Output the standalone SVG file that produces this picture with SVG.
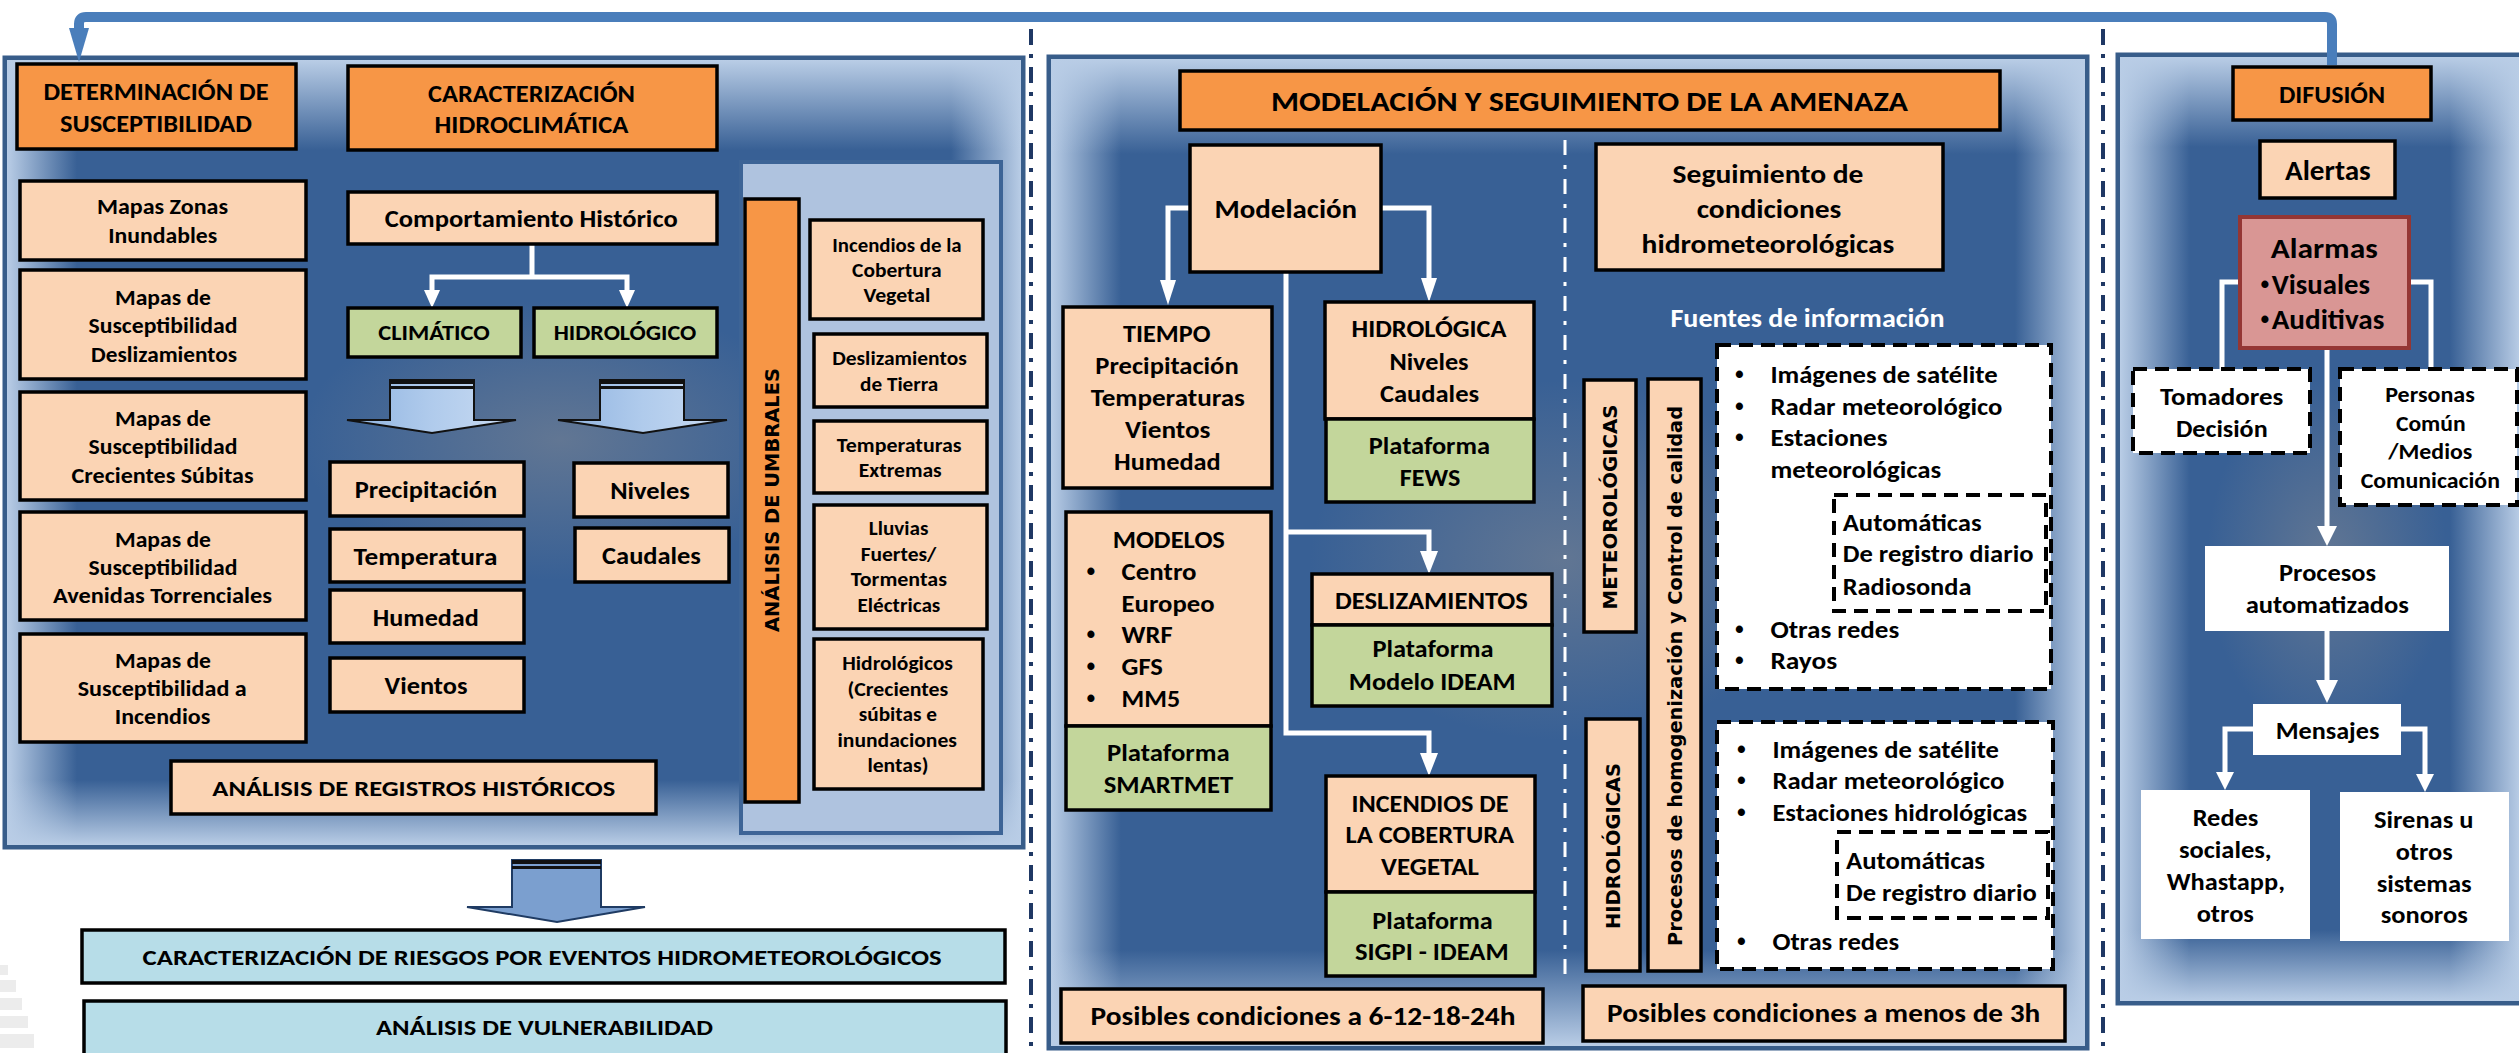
<svg xmlns="http://www.w3.org/2000/svg" width="2519" height="1053" viewBox="0 0 2519 1053">
<style>
.b{stroke:#000;stroke-width:3.5}
.pe{fill:#fbd4b4}
.or{fill:#f79646}
.gr{fill:#c3d69b}
.lb{fill:#b7dde8}
.wh{fill:#fff}
.t{font-family:Carlito,Lato,'Liberation Sans',sans-serif;font-weight:700;fill:#000;text-anchor:middle;dominant-baseline:central}
.l{text-anchor:start}
.bu{font-family:'Liberation Sans',sans-serif;font-weight:700;fill:#000;text-anchor:middle;dominant-baseline:central;font-size:25px}
.r{font-family:'DejaVu Sans',sans-serif;font-weight:700;fill:#000;text-anchor:middle;dominant-baseline:central}
.w{stroke:#fff;stroke-width:5;fill:none}
.ah{fill:#fff}
.d{fill:#fff;stroke:#000;stroke-width:4;stroke-dasharray:14 8}
.pbase{fill:#386095;stroke:#385d8a;stroke-width:5}
.sep{stroke:#1f3864;stroke-width:4;stroke-dasharray:16 9 4 9;fill:none}
</style>
<defs>
<linearGradient id="fl" x1="0" x2="1" y1="0" y2="0"><stop offset="0" stop-color="#b9cde6"/><stop offset="1" stop-color="#b9cde6" stop-opacity="0"/></linearGradient>
<linearGradient id="fr" x1="1" x2="0" y1="0" y2="0"><stop offset="0" stop-color="#b9cde6"/><stop offset="1" stop-color="#b9cde6" stop-opacity="0"/></linearGradient>
<linearGradient id="ft" x1="0" x2="0" y1="0" y2="1"><stop offset="0" stop-color="#b9cde6"/><stop offset="1" stop-color="#b9cde6" stop-opacity="0"/></linearGradient>
<linearGradient id="fb" x1="0" x2="0" y1="1" y2="0"><stop offset="0" stop-color="#b9cde6"/><stop offset="1" stop-color="#b9cde6" stop-opacity="0"/></linearGradient>
<radialGradient id="glow" cx="0.5" cy="0.5" r="0.5"><stop offset="0" stop-color="#7d8592" stop-opacity="0.6"/><stop offset="1" stop-color="#7d8592" stop-opacity="0"/></radialGradient>
<linearGradient id="barrow" x1="0" x2="1" y1="0" y2="0"><stop offset="0" stop-color="#8fb3e0"/><stop offset="0.5" stop-color="#b0cbec"/><stop offset="1" stop-color="#c9dbf2"/></linearGradient>
</defs>

<g id="watermark" fill="#ececec">
<rect x="0" y="965" width="8" height="10"/>
<rect x="0" y="980" width="16" height="12"/>
<rect x="0" y="998" width="22" height="12"/>
<rect x="0" y="1016" width="28" height="12"/>
<rect x="0" y="1034" width="34" height="14"/>
</g>

<g id="separators">
<line class="sep" x1="1031" y1="29" x2="1031" y2="1053"/>
<line class="sep" x1="2103" y1="29" x2="2103" y2="1053"/>
</g>

<g id="panel-left">
<rect class="pbase" x="5" y="58" width="1018" height="789"/>
<rect x="7" y="60" width="70" height="785" fill="url(#fl)"/>
<rect x="951" y="60" width="70" height="785" fill="url(#fr)"/>
<rect x="7" y="60" width="1014" height="90" fill="url(#ft)"/>
<rect x="7" y="780" width="1014" height="65" fill="url(#fb)"/>
<ellipse cx="560" cy="440" rx="260" ry="140" fill="url(#glow)"/>
<rect x="741" y="162" width="260" height="671" fill="#afc3df" stroke="#3d6496" stroke-width="4"/>
</g>
<g id="panel-mid">
<rect class="pbase" x="1049" y="57" width="1038" height="991"/>
<rect x="1051" y="59" width="70" height="987" fill="url(#fl)"/>
<rect x="2015" y="59" width="70" height="987" fill="url(#fr)"/>
<rect x="1051" y="59" width="1034" height="95" fill="url(#ft)"/>
<rect x="1051" y="950" width="1034" height="96" fill="url(#fb)"/>
<ellipse cx="1560" cy="560" rx="250" ry="180" fill="url(#glow)"/>
</g>
<g id="panel-right">
<rect class="pbase" x="2118" y="55" width="420" height="948"/>
<rect x="2120" y="57" width="70" height="944" fill="url(#fl)"/>
<rect x="2450" y="57" width="70" height="944" fill="url(#fr)"/>
<rect x="2120" y="57" width="400" height="90" fill="url(#ft)"/>
<rect x="2120" y="930" width="400" height="71" fill="url(#fb)"/>
<ellipse cx="2327" cy="560" rx="120" ry="180" fill="url(#glow)"/>
</g>

<g id="connectors">
<path d="M2332 65 V24 Q2332 17 2325 17 H86 Q79 17 79 24 V32" fill="none" stroke="#4a7ebb" stroke-width="10"/>
<polygon points="69,28 89,28 79,62" fill="#4a7ebb"/>
<path class="w" d="M532 244 V277 M432 293 V277 H627 V293"/>
<polygon class="ah" points="424,290 440,290 432,308"/>
<polygon class="ah" points="619,290 635,290 627,308"/>
<g id="blockarrow1">
<polygon points="390,380 474,380 474,420 516,420 432,433 347,420 390,420" fill="url(#barrow)" stroke="#111" stroke-width="2"/>
<rect x="390" y="380" width="84" height="4" fill="#111"/>
<rect x="390" y="386" width="84" height="3" fill="#111"/>
</g>
<g id="blockarrow2">
<polygon points="600,380 684,380 684,420 727,420 643,433 558,420 600,420" fill="url(#barrow)" stroke="#111" stroke-width="2"/>
<rect x="600" y="380" width="84" height="4" fill="#111"/>
<rect x="600" y="386" width="84" height="3" fill="#111"/>
</g>
<g id="blockarrow3">
<polygon points="512,860 601,860 601,907 645,907 557,922 467,907 512,907" fill="#7b9fcf" stroke="#1f3b63" stroke-width="2"/>
<rect x="512" y="860" width="89" height="4" fill="#111"/>
<rect x="512" y="866" width="89" height="3" fill="#111"/>
</g>
<path class="w" d="M1190 208 H1168 V285"/>
<polygon class="ah" points="1160,280 1176,280 1168,305"/>
<path class="w" d="M1381 208 H1429 V283"/>
<polygon class="ah" points="1421,278 1437,278 1429,302"/>
<path class="w" d="M1286 272 V733 H1429 V758"/>
<polygon class="ah" points="1420,753 1438,753 1429,776"/>
<path class="w" d="M1286 532 H1429 V556"/>
<polygon class="ah" points="1420,551 1438,551 1429,574"/>
<line x1="1565" y1="140" x2="1565" y2="974" stroke="#fff" stroke-width="3" stroke-dasharray="15 10 4 10"/>
<path class="w" d="M2240 282 H2222 V369 M2409 282 H2431 V369"/>
<path class="w" d="M2327 348 V530"/>
<polygon class="ah" points="2317,526 2337,526 2327,546"/>
<path class="w" d="M2327 631 V684"/>
<polygon class="ah" points="2316,680 2338,680 2327,703"/>
<path class="w" d="M2253 729 H2225 V775 M2401 729 H2425 V777"/>
<polygon class="ah" points="2216,772 2234,772 2225,790"/>
<polygon class="ah" points="2416,774 2434,774 2425,792"/>
</g>

<g id="n-determinacion"><rect class="b or" x="17" y="64" width="279" height="85"/>
<text class="t" font-size="25" x="156" y="91" textLength="225" lengthAdjust="spacingAndGlyphs">DETERMINACIÓN DE</text>
<text class="t" font-size="25" x="156" y="123" textLength="192" lengthAdjust="spacingAndGlyphs">SUSCEPTIBILIDAD</text></g>
<g id="n-caracterizacion"><rect class="b or" x="348" y="66" width="369" height="84"/>
<text class="t" font-size="25" x="531.5" y="93" textLength="207" lengthAdjust="spacingAndGlyphs">CARACTERIZACIÓN</text>
<text class="t" font-size="25" x="531.5" y="124" textLength="194" lengthAdjust="spacingAndGlyphs">HIDROCLIMÁTICA</text></g>
<g id="n-mapas1"><rect class="b pe" x="20" y="181" width="286" height="79"/>
<text class="t" font-size="23" x="162.5" y="206" textLength="131" lengthAdjust="spacingAndGlyphs">Mapas Zonas</text>
<text class="t" font-size="23" x="162.7" y="235" textLength="109" lengthAdjust="spacingAndGlyphs">Inundables</text></g>
<g id="n-mapas2"><rect class="b pe" x="20" y="270" width="286" height="109"/>
<text class="t" font-size="23" x="163" y="297" textLength="96" lengthAdjust="spacingAndGlyphs">Mapas de</text>
<text class="t" font-size="23" x="163" y="325" textLength="149" lengthAdjust="spacingAndGlyphs">Susceptibilidad</text>
<text class="t" font-size="23" x="164" y="354" textLength="146" lengthAdjust="spacingAndGlyphs">Deslizamientos</text></g>
<g id="n-mapas3"><rect class="b pe" x="20" y="392" width="286" height="108"/>
<text class="t" font-size="23" x="163" y="418" textLength="96" lengthAdjust="spacingAndGlyphs">Mapas de</text>
<text class="t" font-size="23" x="163" y="446" textLength="149" lengthAdjust="spacingAndGlyphs">Susceptibilidad</text>
<text class="t" font-size="23" x="162.5" y="475" textLength="182" lengthAdjust="spacingAndGlyphs">Crecientes Súbitas</text></g>
<g id="n-mapas4"><rect class="b pe" x="20" y="512" width="286" height="108"/>
<text class="t" font-size="23" x="163" y="539" textLength="96" lengthAdjust="spacingAndGlyphs">Mapas de</text>
<text class="t" font-size="23" x="163" y="567" textLength="149" lengthAdjust="spacingAndGlyphs">Susceptibilidad</text>
<text class="t" font-size="23" x="162.5" y="595" textLength="219" lengthAdjust="spacingAndGlyphs">Avenidas Torrenciales</text></g>
<g id="n-mapas5"><rect class="b pe" x="20" y="634" width="286" height="108"/>
<text class="t" font-size="23" x="163" y="660" textLength="96" lengthAdjust="spacingAndGlyphs">Mapas de</text>
<text class="t" font-size="23" x="162.2" y="688" textLength="169" lengthAdjust="spacingAndGlyphs">Susceptibilidad a</text>
<text class="t" font-size="23" x="162.5" y="716" textLength="95.5" lengthAdjust="spacingAndGlyphs">Incendios</text></g>
<g id="n-comportamiento"><rect class="b pe" x="348" y="192" width="369" height="52"/>
<text class="t" font-size="24" x="531.2" y="218" textLength="293" lengthAdjust="spacingAndGlyphs">Comportamiento Histórico</text></g>
<g id="n-climatico"><rect class="b gr" x="348" y="308" width="173" height="49"/>
<text class="t" font-size="23" x="434" y="332" textLength="111.4" lengthAdjust="spacingAndGlyphs">CLIMÁTICO</text></g>
<g id="n-hidrologico"><rect class="b gr" x="534" y="308" width="183" height="49"/>
<text class="t" font-size="23" x="625" y="332" textLength="142.6" lengthAdjust="spacingAndGlyphs">HIDROLÓGICO</text></g>
<g id="n-precipitacion"><rect class="b pe" x="330" y="462" width="194" height="54"/>
<text class="t" font-size="24" x="426" y="489" textLength="142.5" lengthAdjust="spacingAndGlyphs">Precipitación</text></g>
<g id="n-temperatura"><rect class="b pe" x="330" y="529" width="194" height="53"/>
<text class="t" font-size="24" x="425.4" y="556" textLength="143.9" lengthAdjust="spacingAndGlyphs">Temperatura</text></g>
<g id="n-humedad"><rect class="b pe" x="330" y="590" width="194" height="53"/>
<text class="t" font-size="24" x="425.8" y="617" textLength="106" lengthAdjust="spacingAndGlyphs">Humedad</text></g>
<g id="n-vientos"><rect class="b pe" x="330" y="658" width="194" height="54"/>
<text class="t" font-size="24" x="426" y="685" textLength="82.9" lengthAdjust="spacingAndGlyphs">Vientos</text></g>
<g id="n-niveles"><rect class="b pe" x="574" y="463" width="154" height="54"/>
<text class="t" font-size="24" x="650" y="490" textLength="79.6" lengthAdjust="spacingAndGlyphs">Niveles</text></g>
<g id="n-caudales"><rect class="b pe" x="575" y="528" width="154" height="54"/>
<text class="t" font-size="24" x="651.5" y="555" textLength="98.8" lengthAdjust="spacingAndGlyphs">Caudales</text></g>
<g id="n-registros"><rect class="b pe" x="171" y="761" width="485" height="53"/>
<text class="t" font-size="23" x="413.8" y="788" textLength="403" lengthAdjust="spacingAndGlyphs">ANÁLISIS DE REGISTROS HISTÓRICOS</text></g>
<g id="n-umbrales"><rect class="b or" x="745" y="199" width="54" height="603"/>
<text class="r" font-size="20" transform="translate(772,500) rotate(-90)" textLength="264" lengthAdjust="spacingAndGlyphs">ANÁLISIS DE UMBRALES</text></g>
<g id="n-u1"><rect class="b pe" x="810" y="220" width="173" height="99"/>
<text class="t" font-size="20" x="896.9" y="245" textLength="129.3" lengthAdjust="spacingAndGlyphs">Incendios de la</text>
<text class="t" font-size="20" x="896.8" y="270" textLength="89.5" lengthAdjust="spacingAndGlyphs">Cobertura</text>
<text class="t" font-size="20" x="896.9" y="295" textLength="67" lengthAdjust="spacingAndGlyphs">Vegetal</text></g>
<g id="n-u2"><rect class="b pe" x="814" y="334" width="173" height="73"/>
<text class="t" font-size="20" x="899.5" y="358" textLength="134.6" lengthAdjust="spacingAndGlyphs">Deslizamientos</text>
<text class="t" font-size="20" x="899.2" y="384" textLength="78.2" lengthAdjust="spacingAndGlyphs">de Tierra</text></g>
<g id="n-u3"><rect class="b pe" x="814" y="421" width="173" height="72"/>
<text class="t" font-size="20" x="899.2" y="445" textLength="124.7" lengthAdjust="spacingAndGlyphs">Temperaturas</text>
<text class="t" font-size="20" x="900.2" y="470" textLength="82.9" lengthAdjust="spacingAndGlyphs">Extremas</text></g>
<g id="n-u4"><rect class="b pe" x="814" y="505" width="173" height="124"/>
<text class="t" font-size="20" x="898.6" y="528" textLength="59.7" lengthAdjust="spacingAndGlyphs">Lluvias</text>
<text class="t" font-size="20" x="898.5" y="554" textLength="75.6" lengthAdjust="spacingAndGlyphs">Fuertes/</text>
<text class="t" font-size="20" x="898.9" y="579" textLength="96.2" lengthAdjust="spacingAndGlyphs">Tormentas</text>
<text class="t" font-size="20" x="898.9" y="605" textLength="82.9" lengthAdjust="spacingAndGlyphs">Eléctricas</text></g>
<g id="n-u5"><rect class="b pe" x="814" y="639" width="169" height="150"/>
<text class="t" font-size="20" x="897.6" y="663" textLength="110.7" lengthAdjust="spacingAndGlyphs">Hidrológicos</text>
<text class="t" font-size="20" x="897.9" y="689" textLength="100.8" lengthAdjust="spacingAndGlyphs">(Crecientes</text>
<text class="t" font-size="20" x="897.9" y="714" textLength="78.2" lengthAdjust="spacingAndGlyphs">súbitas e</text>
<text class="t" font-size="20" x="897.2" y="740" textLength="119.4" lengthAdjust="spacingAndGlyphs">inundaciones</text>
<text class="t" font-size="20" x="897.9" y="765" textLength="61" lengthAdjust="spacingAndGlyphs">lentas)</text></g>
<g id="n-riesgos"><rect class="b lb" x="82" y="930" width="923" height="53"/>
<text class="t" font-size="23" x="542.1" y="957" textLength="799" lengthAdjust="spacingAndGlyphs">CARACTERIZACIÓN DE RIESGOS POR EVENTOS HIDROMETEOROLÓGICOS</text></g>
<g id="n-vulnerabilidad"><rect class="b lb" x="84" y="1001" width="922" height="54"/>
<text class="t" font-size="23" x="544.5" y="1027" textLength="337" lengthAdjust="spacingAndGlyphs">ANÁLISIS DE VULNERABILIDAD</text></g>

<g id="n-modelacion-header"><rect class="b or" x="1180" y="71" width="820" height="59"/>
<text class="t" font-size="29" x="1589.5" y="101" textLength="637" lengthAdjust="spacingAndGlyphs">MODELACIÓN Y SEGUIMIENTO DE LA AMENAZA</text></g>
<g id="n-modelacion"><rect class="b pe" x="1190" y="145" width="191" height="127"/>
<text class="t" font-size="27" x="1285.8" y="208" textLength="142.5" lengthAdjust="spacingAndGlyphs">Modelación</text></g>
<g id="n-seguimiento"><rect class="b pe" x="1596" y="144" width="347" height="126"/>
<text class="t" font-size="27" x="1768" y="173" textLength="190.8" lengthAdjust="spacingAndGlyphs">Seguimiento de</text>
<text class="t" font-size="27" x="1769" y="208" textLength="144.6" lengthAdjust="spacingAndGlyphs">condiciones</text>
<text class="t" font-size="27" x="1768" y="243" textLength="252.8" lengthAdjust="spacingAndGlyphs">hidrometeorológicas</text></g>
<g id="n-tiempo"><rect class="b pe" x="1063" y="307" width="209" height="181"/>
<text class="t" font-size="25" x="1166.7" y="333" textLength="87.5" lengthAdjust="spacingAndGlyphs">TIEMPO</text>
<text class="t" font-size="25" x="1167" y="365" textLength="143.3" lengthAdjust="spacingAndGlyphs">Precipitación</text>
<text class="t" font-size="25" x="1167.8" y="397" textLength="154.3" lengthAdjust="spacingAndGlyphs">Temperaturas</text>
<text class="t" font-size="25" x="1167.7" y="429" textLength="85.4" lengthAdjust="spacingAndGlyphs">Vientos</text>
<text class="t" font-size="25" x="1167.4" y="461" textLength="106.7" lengthAdjust="spacingAndGlyphs">Humedad</text></g>
<g id="n-hidrologica"><rect class="b pe" x="1325" y="302" width="209" height="117"/>
<text class="t" font-size="25" x="1429" y="328" textLength="155" lengthAdjust="spacingAndGlyphs">HIDROLÓGICA</text>
<text class="t" font-size="25" x="1429" y="361" textLength="79.2" lengthAdjust="spacingAndGlyphs">Niveles</text>
<text class="t" font-size="25" x="1429.5" y="393" textLength="99.2" lengthAdjust="spacingAndGlyphs">Caudales</text></g>
<g id="n-fews"><rect class="b gr" x="1326" y="419" width="208" height="83"/>
<text class="t" font-size="25" x="1429.4" y="445" textLength="121.2" lengthAdjust="spacingAndGlyphs">Plataforma</text>
<text class="t" font-size="25" x="1430" y="477" textLength="60.6" lengthAdjust="spacingAndGlyphs">FEWS</text></g>
<g id="n-modelos"><rect class="b pe" x="1066" y="512" width="205" height="214"/>
<text class="t" font-size="25" x="1168.8" y="539" textLength="112.3" lengthAdjust="spacingAndGlyphs">MODELOS</text>
<text class="bu" x="1091" y="571">•</text><text class="t l" font-size="25" x="1121.6" y="571" textLength="75" lengthAdjust="spacingAndGlyphs">Centro</text>
<text class="t l" font-size="25" x="1121.6" y="603" textLength="93" lengthAdjust="spacingAndGlyphs">Europeo</text>
<text class="bu" x="1091" y="634">•</text><text class="t l" font-size="25" x="1121.6" y="634" textLength="51" lengthAdjust="spacingAndGlyphs">WRF</text>
<text class="bu" x="1091" y="666">•</text><text class="t l" font-size="25" x="1121.6" y="666" textLength="41.3" lengthAdjust="spacingAndGlyphs">GFS</text>
<text class="bu" x="1091" y="698">•</text><text class="t l" font-size="25" x="1121.6" y="698" textLength="58.5" lengthAdjust="spacingAndGlyphs">MM5</text></g>
<g id="n-smartmet"><rect class="b gr" x="1066" y="726" width="205" height="84"/>
<text class="t" font-size="25" x="1168.4" y="752" textLength="122.6" lengthAdjust="spacingAndGlyphs">Plataforma</text>
<text class="t" font-size="25" x="1168.5" y="784" textLength="129.5" lengthAdjust="spacingAndGlyphs">SMARTMET</text></g>
<g id="n-deslizamientos"><rect class="b pe" x="1312" y="574" width="240" height="51"/>
<text class="t" font-size="25" x="1431.5" y="600" textLength="192.8" lengthAdjust="spacingAndGlyphs">DESLIZAMIENTOS</text></g>
<g id="n-ideam"><rect class="b gr" x="1312" y="625" width="240" height="81"/>
<text class="t" font-size="25" x="1433" y="648" textLength="121.2" lengthAdjust="spacingAndGlyphs">Plataforma</text>
<text class="t" font-size="25" x="1432.2" y="681" textLength="166.7" lengthAdjust="spacingAndGlyphs">Modelo IDEAM</text></g>
<g id="n-incendios"><rect class="b pe" x="1326" y="776" width="209" height="116"/>
<text class="t" font-size="25" x="1430" y="803" textLength="157" lengthAdjust="spacingAndGlyphs">INCENDIOS DE</text>
<text class="t" font-size="25" x="1429.8" y="834" textLength="168.7" lengthAdjust="spacingAndGlyphs">LA COBERTURA</text>
<text class="t" font-size="25" x="1430" y="866" textLength="97.8" lengthAdjust="spacingAndGlyphs">VEGETAL</text></g>
<g id="n-sigpi"><rect class="b gr" x="1326" y="892" width="209" height="84"/>
<text class="t" font-size="25" x="1432.5" y="920" textLength="120.5" lengthAdjust="spacingAndGlyphs">Plataforma</text>
<text class="t" font-size="25" x="1431.8" y="951" textLength="153.6" lengthAdjust="spacingAndGlyphs">SIGPI - IDEAM</text></g>
<g id="n-fuentes"><text class="t" font-size="26" x="1807.5" y="318" style="fill:#fff" textLength="274" lengthAdjust="spacingAndGlyphs">Fuentes de información</text></g>
<g id="n-meteorologicas"><rect class="b pe" x="1584" y="380" width="52" height="252"/>
<text class="r" font-size="20" transform="translate(1610,507) rotate(-90)" textLength="205" lengthAdjust="spacingAndGlyphs">METEOROLÓGICAS</text></g>
<g id="n-hidrologicas"><rect class="b pe" x="1586" y="719" width="54" height="252"/>
<text class="r" font-size="20" transform="translate(1613,846) rotate(-90)" textLength="166" lengthAdjust="spacingAndGlyphs">HIDROLÓGICAS</text></g>
<g id="n-procesos"><rect class="b pe" x="1648" y="379" width="53" height="592"/>
<text class="r" font-size="20" transform="translate(1675,676) rotate(-90)" textLength="540" lengthAdjust="spacingAndGlyphs">Procesos de homogenización y Control de calidad</text></g>
<g id="n-fuentes-met"><rect class="d" x="1717" y="345" width="334" height="344"/>
<text class="bu" x="1739.4" y="374">•</text><text class="t l" font-size="24" x="1770.4" y="374" textLength="227.3" lengthAdjust="spacingAndGlyphs">Imágenes de satélite</text>
<text class="bu" x="1739.4" y="406">•</text><text class="t l" font-size="24" x="1770.4" y="406" textLength="232" lengthAdjust="spacingAndGlyphs">Radar meteorológico</text>
<text class="bu" x="1739.4" y="437">•</text><text class="t l" font-size="24" x="1770.4" y="437" textLength="117" lengthAdjust="spacingAndGlyphs">Estaciones</text>
<text class="t l" font-size="24" x="1770.4" y="469" textLength="170.8" lengthAdjust="spacingAndGlyphs">meteorológicas</text>
<rect class="d" x="1834" y="495" width="212" height="116" stroke-width="3"/>
<text class="t l" font-size="24" x="1842.7" y="522" textLength="139" lengthAdjust="spacingAndGlyphs">Automáticas</text>
<text class="t l" font-size="24" x="1842.7" y="553" textLength="190.8" lengthAdjust="spacingAndGlyphs">De registro diario</text>
<text class="t l" font-size="24" x="1842.7" y="586" textLength="128.8" lengthAdjust="spacingAndGlyphs">Radiosonda</text>
<text class="bu" x="1739.4" y="629">•</text><text class="t l" font-size="24" x="1770.4" y="629" textLength="128.8" lengthAdjust="spacingAndGlyphs">Otras redes</text>
<text class="bu" x="1739.4" y="660">•</text><text class="t l" font-size="24" x="1770.4" y="660" textLength="66.8" lengthAdjust="spacingAndGlyphs">Rayos</text></g>
<g id="n-fuentes-hid"><rect class="d" x="1717" y="722" width="336" height="247"/>
<text class="bu" x="1741.4" y="749">•</text><text class="t l" font-size="24" x="1772.4" y="749" textLength="226.6" lengthAdjust="spacingAndGlyphs">Imágenes de satélite</text>
<text class="bu" x="1741.4" y="780">•</text><text class="t l" font-size="24" x="1772.4" y="780" textLength="232" lengthAdjust="spacingAndGlyphs">Radar meteorológico</text>
<text class="bu" x="1741.4" y="812">•</text><text class="t l" font-size="24" x="1772.4" y="812" textLength="254.8" lengthAdjust="spacingAndGlyphs">Estaciones hidrológicas</text>
<rect class="d" x="1837" y="832" width="211" height="86" stroke-width="3"/>
<text class="t l" font-size="24" x="1846" y="860" textLength="139" lengthAdjust="spacingAndGlyphs">Automáticas</text>
<text class="t l" font-size="24" x="1846" y="892" textLength="190.8" lengthAdjust="spacingAndGlyphs">De registro diario</text>
<text class="bu" x="1741.4" y="941">•</text><text class="t l" font-size="24" x="1772.4" y="941" textLength="126.7" lengthAdjust="spacingAndGlyphs">Otras redes</text></g>
<g id="n-posibles1"><rect class="b pe" x="1061" y="989" width="482" height="54"/>
<text class="t" font-size="25.5" x="1303" y="1016" textLength="425" lengthAdjust="spacingAndGlyphs">Posibles condiciones a 6-12-18-24h</text></g>
<g id="n-posibles2"><rect class="b pe" x="1583" y="986" width="482" height="55"/>
<text class="t" font-size="25.5" x="1823.7" y="1013" textLength="433.2" lengthAdjust="spacingAndGlyphs">Posibles condiciones a menos de 3h</text></g>

<g id="n-difusion"><rect class="b or" x="2233" y="67" width="198" height="53"/>
<text class="t" font-size="25" x="2332" y="94" textLength="106" lengthAdjust="spacingAndGlyphs">DIFUSIÓN</text></g>
<g id="n-alertas"><rect class="b pe" x="2260" y="141" width="135" height="57"/>
<text class="t" font-size="27.5" x="2327.9" y="170" textLength="85.7" lengthAdjust="spacingAndGlyphs">Alertas</text></g>
<g id="n-alarmas"><rect x="2240" y="217" width="169" height="131" fill="#d99694" stroke="#943634" stroke-width="4"/>
<text class="t" font-size="28.5" x="2324.2" y="248" textLength="107" lengthAdjust="spacingAndGlyphs">Alarmas</text>
<text class="bu" x="2265" y="284">•</text><text class="t l" font-size="28.5" x="2271.7" y="284" textLength="98.3" lengthAdjust="spacingAndGlyphs">Visuales</text>
<text class="bu" x="2265" y="319">•</text><text class="t l" font-size="28.5" x="2271.7" y="319" textLength="112.6" lengthAdjust="spacingAndGlyphs">Auditivas</text></g>
<g id="n-tomadores"><rect class="d" x="2133" y="369" width="177" height="84"/>
<text class="t" font-size="25" x="2221.7" y="396" textLength="123.3" lengthAdjust="spacingAndGlyphs">Tomadores</text>
<text class="t" font-size="25" x="2221.8" y="428" textLength="91.7" lengthAdjust="spacingAndGlyphs">Decisión</text></g>
<g id="n-personas"><rect class="d" x="2340" y="369" width="177" height="136"/>
<text class="t" font-size="22.5" x="2430" y="394" textLength="89.6" lengthAdjust="spacingAndGlyphs">Personas</text>
<text class="t" font-size="22.5" x="2430.8" y="423" textLength="69.7" lengthAdjust="spacingAndGlyphs">Común</text>
<text class="t" font-size="22.5" x="2430.3" y="451" textLength="84" lengthAdjust="spacingAndGlyphs">/Medios</text>
<text class="t" font-size="22.5" x="2430.3" y="480" textLength="139.3" lengthAdjust="spacingAndGlyphs">Comunicación</text></g>
<g id="n-procesos-auto"><rect class="wh" x="2205" y="546" width="244" height="85"/>
<text class="t" font-size="24.5" x="2327.5" y="573" textLength="97" lengthAdjust="spacingAndGlyphs">Procesos</text>
<text class="t" font-size="24.5" x="2327.3" y="605" textLength="163.3" lengthAdjust="spacingAndGlyphs">automatizados</text></g>
<g id="n-mensajes"><rect class="wh" x="2253" y="704" width="148" height="51"/>
<text class="t" font-size="25" x="2327.5" y="730" textLength="103.7" lengthAdjust="spacingAndGlyphs">Mensajes</text></g>
<g id="n-redes"><rect class="wh" x="2141" y="790" width="169" height="149"/>
<text class="t" font-size="25" x="2225.5" y="817" textLength="65.7" lengthAdjust="spacingAndGlyphs">Redes</text>
<text class="t" font-size="25" x="2225.3" y="849" textLength="92.7" lengthAdjust="spacingAndGlyphs">sociales,</text>
<text class="t" font-size="25" x="2225.8" y="881" textLength="118.3" lengthAdjust="spacingAndGlyphs">Whastapp,</text>
<text class="t" font-size="25" x="2225.3" y="913" textLength="57.3" lengthAdjust="spacingAndGlyphs">otros</text></g>
<g id="n-sirenas"><rect class="wh" x="2340" y="792" width="169" height="149"/>
<text class="t" font-size="25" x="2423.7" y="819" textLength="99.3" lengthAdjust="spacingAndGlyphs">Sirenas u</text>
<text class="t" font-size="25" x="2424.2" y="851" textLength="57" lengthAdjust="spacingAndGlyphs">otros</text>
<text class="t" font-size="25" x="2424.2" y="883" textLength="95" lengthAdjust="spacingAndGlyphs">sistemas</text>
<text class="t" font-size="25" x="2424.2" y="914" textLength="87" lengthAdjust="spacingAndGlyphs">sonoros</text></g>
</svg>
